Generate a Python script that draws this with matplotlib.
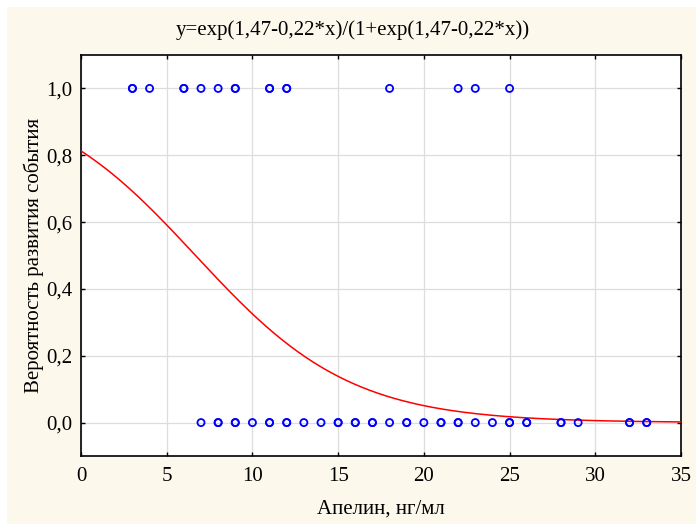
import numpy as np
import matplotlib.pyplot as plt
from matplotlib.patches import Rectangle

# logistic model coefficients
b0 = 1.47
b1 = -0.22

# observed apelin values (ng/ml) by outcome
x_event = [3, 3, 4, 6, 6, 7, 8, 9, 9, 11, 11, 12, 12, 18, 22, 23, 25]
x_no_event = [7, 8, 8, 9, 9, 10, 11, 11, 12, 12, 13, 14, 15, 15, 16, 16,
              17, 17, 18, 19, 19, 20, 21, 21, 22, 22, 23, 24, 25, 25, 26,
              26, 28, 28, 29, 32, 32, 33, 33]

x_ticks = [0, 5, 10, 15, 20, 25, 30, 35]
y_ticks = [0.0, 0.2, 0.4, 0.6, 0.8, 1.0]
y_tick_labels = ['0,0', '0,2', '0,4', '0,6', '0,8', '1,0']

plt.rcParams['font.family'] = ['Liberation Serif', 'DejaVu Serif']

fig = plt.figure(figsize=(6.96, 5.24), dpi=100)
fig.patch.set_facecolor('white')
fig.patches.append(Rectangle((7 / 696, 0), 1, 1 - 7 / 524, transform=fig.transFigure,
                             facecolor='#fdf8ec', edgecolor='none', zorder=-1))

ax = fig.add_axes([81 / 696, 1 - 456 / 524, 600 / 696, 401 / 524])
ax.set_facecolor('white')

xs = np.linspace(0, 35, 300)
ys = np.exp(b0 + b1 * xs) / (1 + np.exp(b0 + b1 * xs))
ax.plot(xs, ys, color='red', lw=1.1, zorder=3)

ax.scatter(x_event, np.ones(len(x_event)), s=26, facecolors='none',
           edgecolors='blue', linewidths=1.3, zorder=4)
ax.scatter(x_no_event, np.zeros(len(x_no_event)), s=26, facecolors='none',
           edgecolors='blue', linewidths=1.3, zorder=4)

ax.set_xlim(0, 35)
ax.set_ylim(-0.1, 1.1)
ax.set_xticks(x_ticks)
ax.set_yticks(y_ticks)
ax.set_yticklabels(y_tick_labels)
ax.grid(True, color='#dddddd', lw=0.9)
ax.set_axisbelow(True)
ax.tick_params(direction='in', length=3, width=1, top=True, right=True,
               labelsize=15, colors='black')
ax.tick_params(axis='x', pad=8)
ax.tick_params(axis='y', pad=6)
for sp in ax.spines.values():
    sp.set_linewidth(1.2)

fig.text(353 / 696, 1 - 30 / 524, 'y=exp(1,47-0,22*x)/(1+exp(1,47-0,22*x))',
         fontsize=15, ha='center', va='center')
ax.set_xlabel('Апелин, нг/мл', fontsize=15, labelpad=10)
ax.set_ylabel('Вероятность развития события', fontsize=15, labelpad=2)

fig.savefig('out.png', dpi=100, facecolor=fig.get_facecolor())
